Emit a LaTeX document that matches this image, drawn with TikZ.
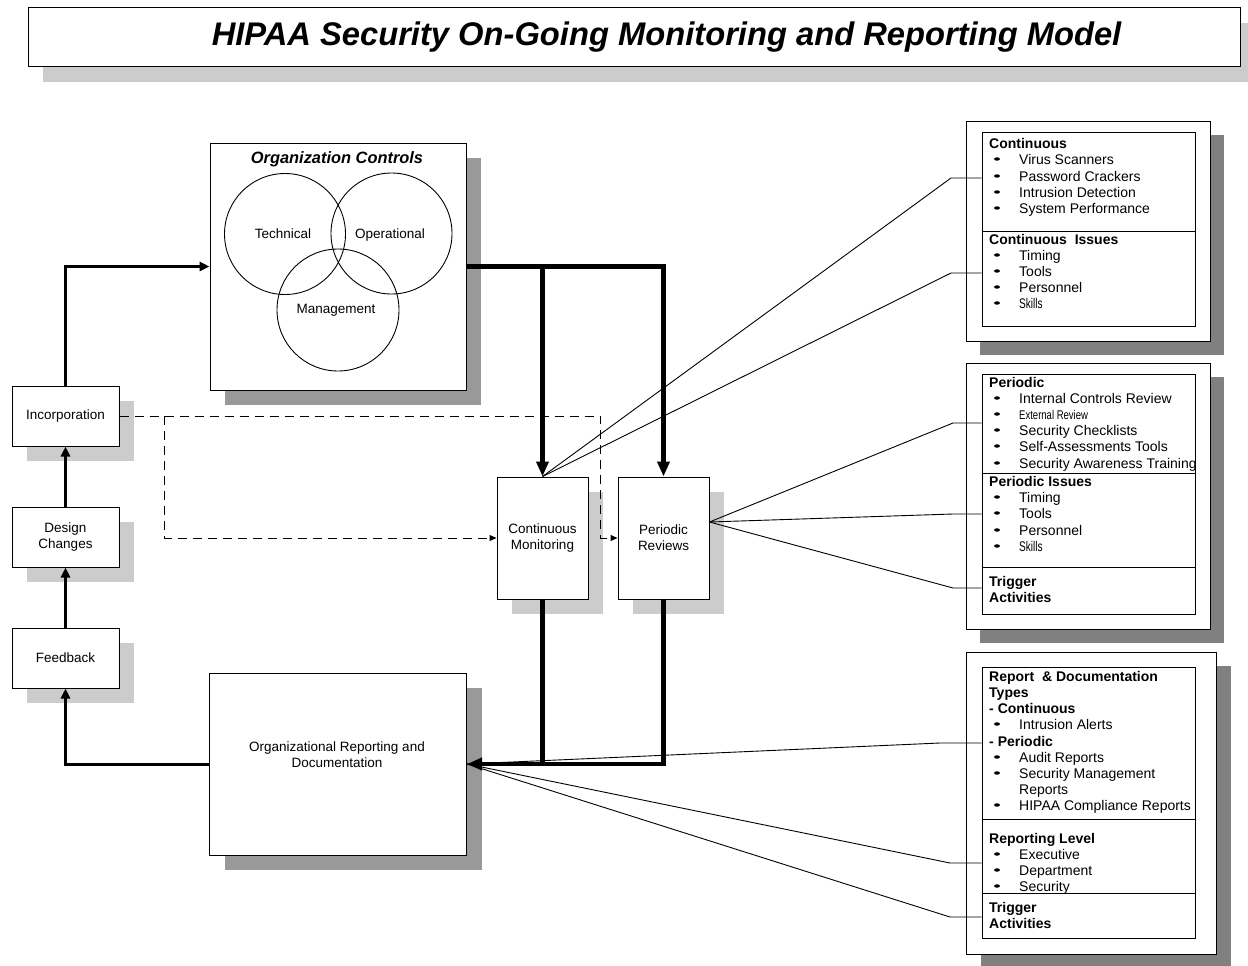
\documentclass[tikz,border=0pt]{standalone}
\usepackage{fontspec}
\usepackage{graphicx}
\setmainfont{Liberation Sans}
\usetikzlibrary{arrows.meta,shadows,calc}

\definecolor{shlight}{HTML}{CCCCCC}
\definecolor{shmid}{HTML}{999999}
\definecolor{shdark}{HTML}{808080}

\tikzset{
  box/.style={draw=black, line width=1pt, fill=white, inner sep=0pt, align=center,
              font=\fontsize{13.5}{16}\selectfont},
  lightshadow/.style={drop shadow={shadow xshift=15pt, shadow yshift=-15pt, fill=shlight, opacity=1}},
  midshadow/.style={drop shadow={shadow xshift=15pt, shadow yshift=-15pt, fill=shmid, opacity=1}},
  darkshadow/.style={drop shadow={shadow xshift=14pt, shadow yshift=-14pt, fill=shdark, opacity=1}},
  section/.style={draw=black, line width=1pt, inner sep=0pt, minimum width=213pt},
  lbl/.style={inner sep=0pt, anchor=base, font=\fontsize{13.5}{16}\selectfont},
  headtxt/.style={inner sep=0pt, anchor=base west, font=\fontsize{14}{16}\selectfont\bfseries},
  itemtxt/.style={inner sep=0pt, anchor=base west, font=\fontsize{14}{16}\selectfont},
  ring/.style={draw=black, circle, line width=0.9pt, inner sep=0pt},
  medarrow/.style={line width=3pt, -{Triangle[length=10pt,width=9pt]}},
  thickline/.style={line width=4.5pt},
  thickarrow/.style={line width=4.5pt, -{Triangle[length=15pt,width=12pt]}},
  dasharrow/.style={line width=1pt, dash pattern=on 9pt off 6pt, -{Triangle[length=7pt,width=6pt]}},
  fanline/.style={line width=0.9pt},
}

% panel text helpers: #1 name, #2 vertical centre of the line, #3 text
\newcommand\PanelHead[3]{\node[headtxt] (#1) at (989,{#2+5}) {#3};}
\newcommand\PanelItem[3]{%
  \fill (997,#2) ellipse [x radius=3pt, y radius=1.7pt];
  \node[itemtxt] (#1) at (1019,{#2+5}) {#3};}
\newcommand\PanelCont[3]{\node[itemtxt] (#1) at (1019,{#2+5}) {#3};}

\begin{document}
\begin{tikzpicture}[x=1pt,y=-1pt]
\useasboundingbox[fill=white] (0,0) rectangle (1248,966);

% ---------- title ----------
\node[box, lightshadow, minimum width=1212pt, minimum height=59pt] (titlebox) at (634,37.5) {};
\node[inner sep=0pt, anchor=base, font=\fontsize{32.7}{36}\selectfont\bfseries\itshape] (title)
  at (666.5,46) {HIPAA Security On-Going Monitoring and Reporting Model};

% ---------- organization controls ----------
\node[box, midshadow, minimum width=256pt, minimum height=247pt] (oc) at (338,266.5) {};
\node[inner sep=0pt, anchor=base, font=\fontsize{16.4}{18}\selectfont\bfseries\itshape] (octitle)
  at (337,163) {Organization Controls};
\node[ring, minimum size=121pt] (tech) at (285,234) {};
\node[ring, minimum size=121pt] (oper) at (391.5,233.5) {};
\node[ring, minimum size=122pt] (mgmt) at (338,310) {};
\node[lbl] (techlbl) at (283,238) {Technical};
\node[lbl] (operlbl) at (390,238) {Operational};
\node[lbl] (mgmtlbl) at (336,313) {Management};

% ---------- improvement loop ----------
\node[box, lightshadow, minimum width=107pt, minimum height=60pt] (inc) at (65.5,416) {Incorporation};
\node[box, lightshadow, minimum width=107pt, minimum height=60pt] (dc) at (65.5,537) {Design\\Changes};
\node[box, lightshadow, minimum width=107pt, minimum height=60pt] (fb) at (65.5,658) {Feedback};

% ---------- monitoring and reviews ----------
\node[box, lightshadow, minimum width=91pt, minimum height=122pt] (cm) at (542.5,538) {Continuous\\Monitoring};
\node[box, lightshadow, minimum width=91pt, minimum height=122pt] (pr) at (663.5,538) {Periodic\\Reviews};

% ---------- reporting ----------
\node[box, midshadow, minimum width=257pt, minimum height=182pt] (orgrep) at (338,764) {};
\node[inner sep=0pt, align=center, font=\fontsize{13.5}{16}\selectfont] (orgreplbl)
  at (337,755) {Organizational Reporting and\\Documentation};

% ---------- right panels ----------
\node[box, darkshadow, minimum width=244pt, minimum height=220pt] (panelA) at (1088,231) {};
\node[section, minimum height=99pt] (s1a) at (1088.5,181.5) {};
\node[section, minimum height=95pt] (s1b) at (1088.5,278.5) {};

\node[box, darkshadow, minimum width=244pt, minimum height=266pt] (panelB) at (1088,496) {};
\node[section, minimum height=99pt] (s2a) at (1088.5,423.5) {};
\node[section, minimum height=94pt] (s2b) at (1088.5,520) {};
\node[section, minimum height=47pt] (s2c) at (1088.5,590.5) {};

\node[box, darkshadow, minimum width=250pt, minimum height=302pt] (panelC) at (1091.5,803) {};
\node[section, minimum height=152pt] (s3a) at (1088.5,743) {};
\node[section, minimum height=74pt] (s3b) at (1088.5,856) {};
\node[section, minimum height=45pt] (s3c) at (1088.5,915.5) {};

% panel A text
\PanelHead{a1}{143}{Continuous}
\PanelItem{a2}{159}{Virus Scanners}
\PanelItem{a3}{176}{Password Crackers}
\PanelItem{a4}{192}{Intrusion Detection}
\PanelItem{a5}{208}{System Performance}
\PanelHead{a6}{239}{Continuous\ \ Issues}
\PanelItem{a7}{255}{Timing}
\PanelItem{a8}{271}{Tools}
\PanelItem{a9}{287}{Personnel}
\PanelItem{a10}{303}{\scalebox{0.72}[1]{Skills}}

% panel B text
\PanelHead{b1}{382}{Periodic}
\PanelItem{b2}{398}{Internal Controls Review}
\PanelItem{b3}{414}{\scalebox{0.68}[0.9]{External Review}}
\PanelItem{b4}{430}{Security Checklists}
\PanelItem{b5}{446}{Self-Assessments Tools}
\PanelItem{b6}{463}{Security Awareness Training}
\PanelHead{b7}{481}{Periodic Issues}
\PanelItem{b8}{497}{Timing}
\PanelItem{b9}{513}{Tools}
\PanelItem{b10}{530}{Personnel}
\PanelItem{b11}{546}{\scalebox{0.72}[1]{Skills}}
\PanelHead{b12}{581}{Trigger}
\PanelHead{b13}{597}{Activities}

% panel C text
\PanelHead{c1}{676}{Report\ \ \& Documentation}
\PanelHead{c2}{692}{Types}
\PanelHead{c3}{708}{- Continuous}
\PanelItem{c4}{724}{Intrusion Alerts}
\PanelHead{c5}{741}{- Periodic}
\PanelItem{c6}{757}{Audit Reports}
\PanelItem{c7}{773}{Security Management}
\PanelCont{c8}{789}{Reports}
\PanelItem{c9}{805}{HIPAA Compliance Reports}
\PanelHead{c10}{838}{Reporting Level}
\PanelItem{c11}{854}{Executive}
\PanelItem{c12}{870}{Department}
\PanelItem{c13}{886}{Security}
\PanelHead{c14}{907}{Trigger}
\PanelHead{c15}{923}{Activities}

% ---------- loop arrows ----------
\draw[medarrow] (fb.north) -- (dc.south);
\draw[medarrow] (dc.north) -- (inc.south);
\draw[medarrow] (inc.north) |- (oc.west);
\draw[medarrow] (orgrep.west) -| (fb.south);

% ---------- main flow ----------
\draw[thickarrow] (oc.east) -| (pr.north);
\draw[thickarrow] (cm.north |- oc.east) -- (cm.north);
\draw[thickline] (cm.south) -- (cm.south |- orgrep.east);
\draw[thickarrow] (pr.south) |- (orgrep.east);

% ---------- dashed links from incorporation ----------
\coordinate (dturn) at ($(pr.west)+(-17,0)$);
\coordinate (dsplit) at ($(inc.east)+(45,0)$);
\draw[dasharrow] (inc.east) -| (dturn) -- (pr.west);
\draw[dasharrow] (dsplit) |- (cm.west);

% ---------- fan lines to the detail panels ----------
\coordinate (prhub) at ($(pr.north east)+(0,45.5)$);
\coordinate (k1) at (951,178);
\coordinate (k2) at (951,273);
\coordinate (k3) at (953,423);
\coordinate (k4) at (953,514);
\coordinate (k5) at (953,588);
\coordinate (k6) at (940,743);
\coordinate (k7) at (950,863);
\coordinate (k8) at (950,917);

\draw[fanline] (cm.north) -- (k1) -- (k1 -| s1a.west);
\draw[fanline] (cm.north) -- (k2) -- (k2 -| s1b.west);
\draw[fanline] (prhub) -- (k3) -- (k3 -| s2a.west);
\draw[fanline] (prhub) -- (k4) -- (k4 -| s2b.west);
\draw[fanline] (prhub) -- (k5) -- (k5 -| s2c.west);
\draw[fanline] (orgrep.east) -- (k6) -- (k6 -| s3a.west);
\draw[fanline] (orgrep.east) -- (k7) -- (k7 -| s3b.west);
\draw[fanline] (orgrep.east) -- (k8) -- (k8 -| s3c.west);
\end{tikzpicture}
\end{document}
